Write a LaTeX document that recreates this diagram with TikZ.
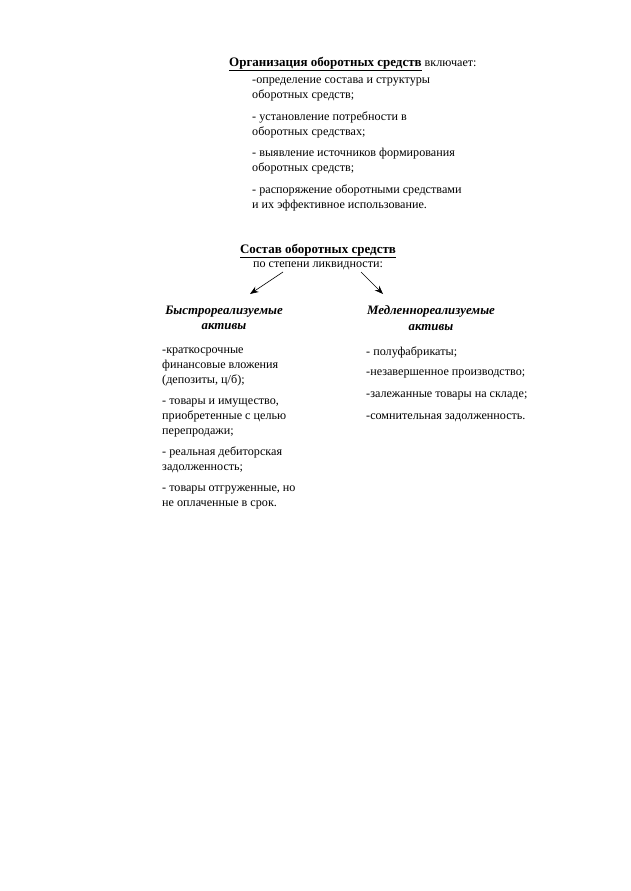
\documentclass[tikz,border=0pt]{standalone}
\usepackage{fontspec}
\setmainfont{Liberation Serif}
\usetikzlibrary{positioning,arrows.meta}

\begin{document}
\begin{tikzpicture}[x=0.0333cm, y=-0.0333cm,
    every node/.style={inner sep=0pt, font=\fontsize{11.5}{13.9}\selectfont},
    item/.style={align=left, anchor=north west},
    title/.style={font=\fontsize{12.3}{14}\selectfont\bfseries},
    head/.style={align=center, font=\fontsize{12.2}{14.5}\selectfont\bfseries\itshape},
    arr/.style={-{Stealth[length=8pt, width=6pt]}, line width=0.6pt}]
    \fill[white] (0,0) rectangle (630,891);
    \useasboundingbox (0,0) rectangle (630,891);

    % organisation
    \node[anchor=west] (org) at (229,64) {\underline{\textbf{\fontsize{12.3}{14}\selectfont Организация оборотных средств}} включает:};
    \node[item] (org1) at (252,78) {-определение состава и структуры\\оборотных средств;};
    \node[item] (org2) at (252,112) {- установление потребности в\\оборотных средствах;};
    \node[item] (org3) at (252,148) {- выявление источников формирования\\оборотных средств;};
    \node[item] (org4) at (252,185) {- распоряжение оборотными средствами\\и их эффективное использование.};

    % composition
    \node[title] (sostav) at (318,251) {\underline{Состав оборотных средств}};
    \node (stepen) at (318,266) {по степени ликвидности:};

    \node[head] (bystr) at (224,318) {Быстрореализуемые\\активы};
    \node[head] (medl) at (431,318) {Медленнореализуемые\\активы};

    \coordinate (l1) at (283,272);
    \coordinate (l2) at (250,294);
    \coordinate (r1) at (361,272);
    \coordinate (r2) at (383,294);
    \draw[arr] (l1) -- (l2);
    \draw[arr] (r1) -- (r2);

    % fast assets
    \node[item] (b1) at (162,348) {-краткосрочные\\финансовые вложения\\(депозиты, ц/б);};
    \node[item] (b2) at (162,399) {- товары и имущество,\\приобретенные с целью\\перепродажи;};
    \node[item] (b3) at (162,447) {- реальная дебиторская\\задолженность;};
    \node[item] (b4) at (162,486) {- товары отгруженные, но\\не оплаченные в срок.};

    % slow assets
    \node[anchor=west] (m1) at (366,352) {- полуфабрикаты;};
    \node[anchor=west] (m2) at (366,374) {-незавершенное производство;};
    \node[anchor=west] (m3) at (366,396) {-залежанные товары на складе;};
    \node[anchor=west] (m4) at (366,418) {-сомнительная задолженность.};
\end{tikzpicture}
\end{document}
